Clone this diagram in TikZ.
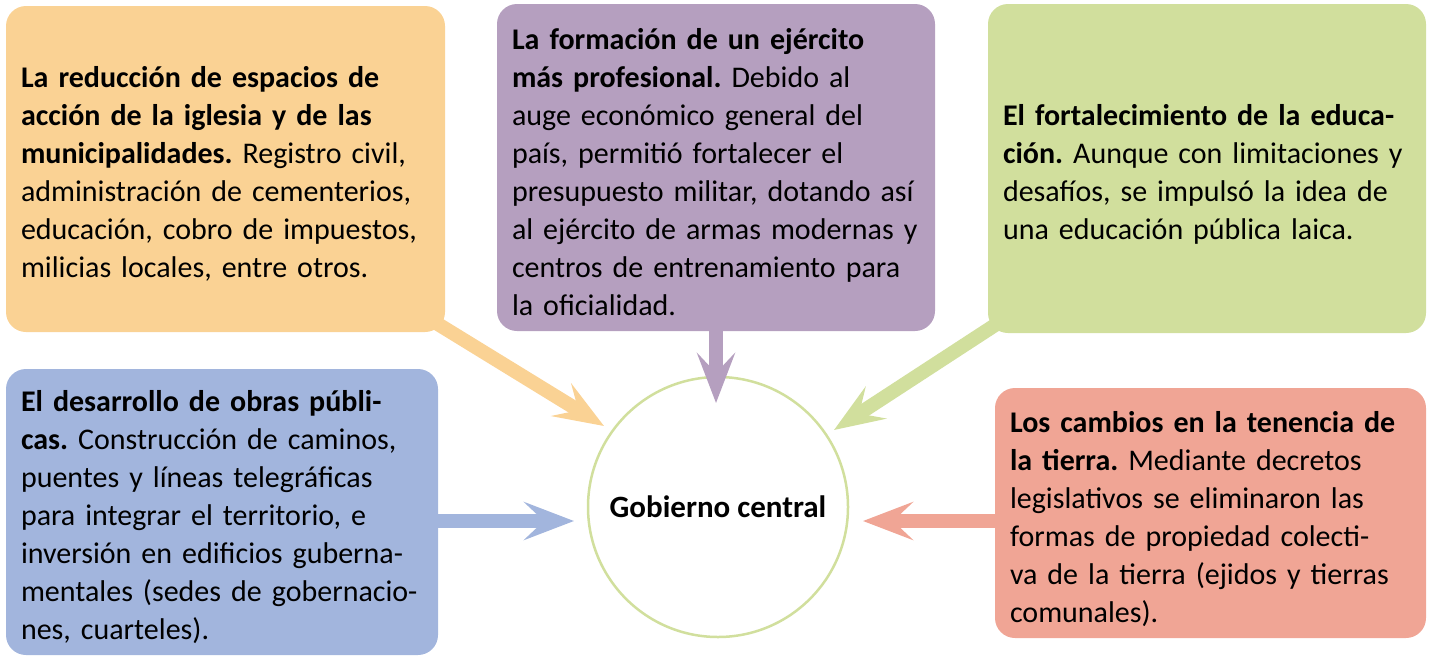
\documentclass[tikz,border=0pt]{standalone}
\usepackage{fontspec}
\setmainfont{Carlito}
\usetikzlibrary{arrows.meta}
\definecolor{corange}{HTML}{FAD294}
\definecolor{cpurple}{HTML}{B59FBF}
\definecolor{cgreen}{HTML}{D1DF9D}
\definecolor{cblue}{HTML}{A2B5DD}
\definecolor{cred}{HTML}{F0A595}
\pgfdeclarelayer{background}
\pgfsetlayers{background,main}
\frenchspacing
\tikzset{
  boxshape/.style={rounded corners=20pt, inner sep=0pt},
  boxtext/.style={anchor=west, inner sep=0pt, align=left, text width=425pt,
    font=\fontsize{30}{38}\selectfont, text=black},
  arr/.style={line width=14pt, -{Stealth[length=50pt,width=38pt,inset=20pt]}},
  hub/.style={circle, draw=cgreen, line width=2.5pt, fill=white, minimum size=260pt,
    inner sep=0pt, font=\fontsize{31}{36}\selectfont\bfseries}
}
\begin{document}
\begin{tikzpicture}[x=1pt,y=-1pt]
\useasboundingbox (0,0) rectangle (1431,656);
\node[boxshape, fill=corange, minimum width=439pt, minimum height=326pt] (b1) at (225.5,169) {};
\node[boxtext] (b1t) at ([shift={(15,5)}]b1.west)
{\textbf{La reducción de espacios de}\\\textbf{acción de la iglesia y de las}\\\textbf{municipalidades.} Registro civil,\\administración de cementerios,\\educación, cobro de impuestos,\\milicias locales, entre otros.};
\node[boxshape, fill=cpurple, minimum width=438pt, minimum height=327pt] (b2) at (716,167.5) {};
\node[boxtext] (b2t) at ([shift={(15,5)}]b2.west)
{\textbf{La formación de un ejército}\\\textbf{más profesional.} Debido al\\auge económico general del\\país, permitió fortalecer el\\presupuesto militar, dotando así\\al ejército de armas modernas y\\centros de entrenamiento para\\la oficialidad.};
\node[boxshape, fill=cgreen, minimum width=438pt, minimum height=329pt] (b3) at (1207,168.5) {};
\node[boxtext] (b3t) at ([shift={(15,6)}]b3.west)
{\textbf{El fortalecimiento de la educa-}\\\textbf{ción.} Aunque con limitaciones y\\desafíos, se impulsó la idea de\\una educación pública laica.};
\node[boxshape, fill=cblue, minimum width=432pt, minimum height=286pt] (b4) at (222,512) {};
\node[boxtext] (b4t) at ([shift={(15,5)}]b4.west)
{\textbf{El desarrollo de obras públi-}\\\textbf{cas.} Construcción de caminos,\\puentes y líneas telegráficas\\para integrar el territorio, e\\inversión en edificios guberna-\\mentales (sedes de gobernacio-\\nes, cuarteles).};
\node[boxshape, fill=cred, minimum width=431pt, minimum height=250pt] (b5) at (1210.5,513) {};
\node[boxtext] (b5t) at ([shift={(15,6)}]b5.west)
{\textbf{Los cambios en la tenencia de}\\\textbf{la tierra.} Mediante decretos\\legislativos se eliminaron las\\formas de propiedad colecti-\\va de la tierra (ejidos y tierras\\comunales).};
\begin{pgfonlayer}{background}
\node[hub] (c) at (718,507) {\raisebox{-2pt}{Gobierno central}};
\coordinate (t1) at (604,426);
\coordinate (t2) at (716,403);
\coordinate (t3) at (834,430);
\coordinate (t4) at (574,521);
\coordinate (t5) at (863,521);
\draw[arr, corange] ([shift={(-25,-19)}]b1.south east) -- (t1);
\draw[arr, cpurple] ([shift={(0,-12)}]b2.south) -- (t2);
\draw[arr, cgreen] ([shift={(27,-21)}]b3.south west) -- (t3);
\draw[arr, cblue] ([shift={(-10,9)}]b4.east) -- (t4);
\draw[arr, cred] ([shift={(10,8)}]b5.west) -- (t5);
\end{pgfonlayer}
\end{tikzpicture}
\end{document}
